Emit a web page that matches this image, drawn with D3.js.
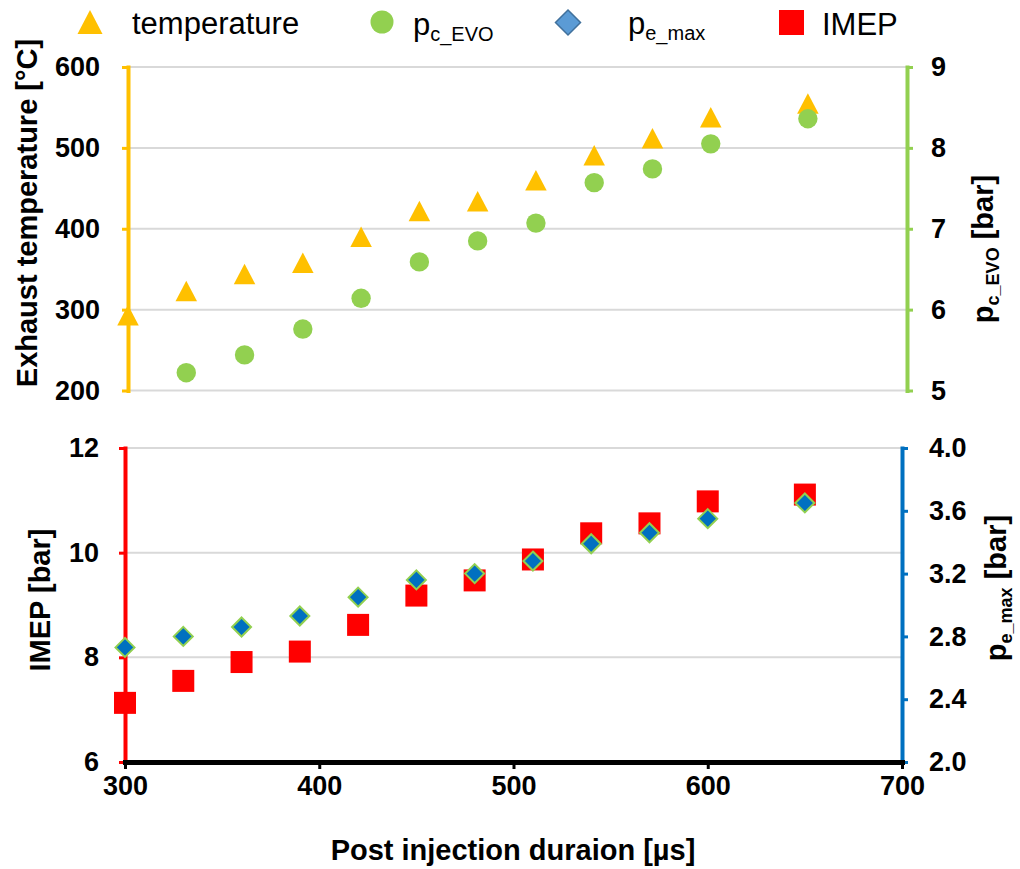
<!DOCTYPE html>
<html>
<head>
<meta charset="utf-8">
<script src="https://cdn.jsdelivr.net/npm/d3@7"></script>
<style>
  body { margin: 0; background: #fff; }
  text { font-family: "Liberation Sans", Arial, sans-serif; fill: #000; }
  .tick text { font-size: 27px; font-weight: bold; }
  .ttl { font-size: 29px; font-weight: bold; }
  .leg { font-size: 31px; }
</style>
</head>
<body>
<div id="viz"></div>
<script>
// data
var duration = [300, 330, 360, 390, 420, 450, 480, 510, 540, 570, 600, 650];
var temperature = [293, 323, 344, 358, 390, 422, 434, 460, 491, 512, 538, 555];
var pcEvo = [null, 5.22, 5.44, 5.76, 6.14, 6.59, 6.85, 7.07, 7.57, 7.74, 8.05, 8.36];
var imep = [7.13, 7.55, 7.91, 8.11, 8.62, 9.18, 9.47, 9.87, 10.37, 10.56, 10.98, 11.11];
var peMax = [2.73, 2.80, 2.86, 2.93, 3.05, 3.16, 3.20, 3.28, 3.39, 3.46, 3.55, 3.65];

var xTicks = [300, 400, 500, 600, 700];
var tempTicks = [200, 300, 400, 500, 600];
var pcTicks = [5, 6, 7, 8, 9];
var imepTicks = [6, 8, 10, 12];
var peTicks = [2.0, 2.4, 2.8, 3.2, 3.6, 4.0];

var w = 1020, h = 869;
var yellow = "#FFC000", green = "#92D050", red = "#FF0000", blue = "#0070C0", grid = "#D9D9D9";

var svg = d3.select("#viz").append("svg")
  .attr("width", w)
  .attr("height", h);

// scales
var xTop = d3.scaleLinear().domain([300, 700]).range([128, 905]);
var xBot = d3.scaleLinear().domain([300, 700]).range([125, 902]);
var yTemp = d3.scaleLinear().domain([200, 600]).range([390.5, 67]);
var yPc = d3.scaleLinear().domain([5, 9]).range([390.5, 67]);
var yImep = d3.scaleLinear().domain([6, 12]).range([762, 448]);
var yPe = d3.scaleLinear().domain([2, 4]).range([762, 448]);

var intFmt = d3.format("d");

// marker shapes
function tri(s) { var a = s / 2; return "M0," + (-a) + "L" + (a + 0.5) + "," + a + "L" + (-a - 0.5) + "," + a + "Z"; }
function diamond(s) { var a = s / 2; return "M0," + (-a) + "L" + a + ",0L0," + a + "L" + (-a) + ",0Z"; }

// gridlines
svg.append("g").selectAll("line")
  .data(tempTicks).enter().append("line")
  .attr("x1", 128).attr("x2", 907)
  .attr("y1", function(d){ return yTemp(d); })
  .attr("y2", function(d){ return yTemp(d); })
  .style("stroke", grid).style("stroke-width", 2);

svg.append("g").selectAll("line")
  .data(imepTicks.slice(1)).enter().append("line")
  .attr("x1", 125).attr("x2", 902)
  .attr("y1", function(d){ return yImep(d); })
  .attr("y2", function(d){ return yImep(d); })
  .style("stroke", grid).style("stroke-width", 2);

function styleAxis(g, colour) {
  g.select(".domain").style("stroke", colour).style("stroke-width", 4);
  g.selectAll(".tick line").style("stroke", colour).style("stroke-width", 3);
}

// top axes
var gT = svg.append("g").attr("transform", "translate(128,0)")
  .call(d3.axisLeft(yTemp).tickValues(tempTicks).tickFormat(intFmt).tickSize(6).tickSizeOuter(0).tickPadding(22));
styleAxis(gT, yellow);

var gP = svg.append("g").attr("transform", "translate(907,0)")
  .call(d3.axisRight(yPc).tickValues(pcTicks).tickFormat(intFmt).tickSize(6).tickSizeOuter(0).tickPadding(18));
styleAxis(gP, green);

// bottom axes
var gI = svg.append("g").attr("transform", "translate(125,0)")
  .call(d3.axisLeft(yImep).tickValues(imepTicks).tickFormat(intFmt).tickSize(6).tickSizeOuter(0).tickPadding(20));
styleAxis(gI, red);

var gE = svg.append("g").attr("transform", "translate(902,0)")
  .call(d3.axisRight(yPe).tickValues(peTicks).tickFormat(d3.format(".1f")).tickSize(6).tickSizeOuter(0).tickPadding(21));
styleAxis(gE, blue);

var gX = svg.append("g").attr("transform", "translate(0,762)")
  .call(d3.axisBottom(xBot).tickValues(xTicks).tickFormat(intFmt).tickSize(7).tickSizeOuter(0).tickPadding(7));
gX.select(".domain").style("stroke", "#000").style("stroke-width", 5);
gX.selectAll(".tick line").style("stroke", "#000").style("stroke-width", 3);
svg.selectAll(".domain").attr("stroke-linecap", "square");

// points, top panel
var topData = duration.map(function(d, i){ return {x: d, t: temperature[i], p: pcEvo[i]}; });

svg.append("g").selectAll("path")
  .data(topData).enter().append("path")
  .attr("d", tri(20.5))
  .attr("transform", function(d){ return "translate(" + xTop(d.x) + "," + yTemp(d.t) + ")"; })
  .style("fill", yellow);

svg.append("g").selectAll("circle")
  .data(topData.filter(function(d){ return d.p != null; })).enter().append("circle")
  .attr("cx", function(d){ return xTop(d.x); })
  .attr("cy", function(d){ return yPc(d.p); })
  .attr("r", 9.7)
  .style("fill", green);

// points, bottom panel
var botData = duration.map(function(d, i){ return {x: d, m: imep[i], e: peMax[i]}; });

svg.append("g").selectAll("rect")
  .data(botData).enter().append("rect")
  .attr("x", function(d){ return xBot(d.x) - 11; })
  .attr("y", function(d){ return yImep(d.m) - 11; })
  .attr("width", 22).attr("height", 22)
  .style("fill", red);

svg.append("g").selectAll("path")
  .data(botData).enter().append("path")
  .attr("d", diamond(19))
  .attr("transform", function(d){ return "translate(" + xBot(d.x) + "," + yPe(d.e) + ")"; })
  .style("fill", blue)
  .style("stroke", green)
  .style("stroke-width", 2);

// axis titles
svg.append("text").attr("class", "ttl")
  .attr("transform", "translate(37,213) rotate(-90)")
  .attr("text-anchor", "middle")
  .text("Exhaust temperature [°C]");

var t2 = svg.append("text").attr("class", "ttl")
  .attr("transform", "translate(993,249) rotate(-90)")
  .attr("text-anchor", "middle");
t2.append("tspan").text("p");
t2.append("tspan").attr("dy", 6).style("font-size", "18px").text("c_EVO");
t2.append("tspan").attr("dy", -6).text(" [bar]");

svg.append("text").attr("class", "ttl")
  .attr("transform", "translate(50,600) rotate(-90)")
  .attr("text-anchor", "middle")
  .text("IMEP [bar]");

var t4 = svg.append("text").attr("class", "ttl")
  .attr("transform", "translate(1006,588) rotate(-90)")
  .attr("text-anchor", "middle");
t4.append("tspan").text("p");
t4.append("tspan").attr("dy", 6).style("font-size", "18px").text("e_max");
t4.append("tspan").attr("dy", -6).text(" [bar]");

svg.append("text").attr("class", "ttl")
  .attr("x", 513).attr("y", 860)
  .attr("text-anchor", "middle")
  .text("Post injection duraion [µs]");

// legend
var leg = svg.append("g");
leg.append("path").attr("d", tri(24)).attr("transform", "translate(90,22)").style("fill", yellow);
leg.append("text").attr("class", "leg").attr("x", 132).attr("y", 34).text("temperature");

leg.append("circle").attr("cx", 382).attr("cy", 22).attr("r", 11.5).style("fill", green);
var l2 = leg.append("text").attr("class", "leg").attr("x", 413).attr("y", 35);
l2.append("tspan").text("p");
l2.append("tspan").attr("dy", 6).style("font-size", "20px").text("c_EVO");

leg.append("path").attr("d", diamond(25)).attr("transform", "translate(568,22.5)")
  .style("fill", "#5B9BD5").style("stroke", "#41719C").style("stroke-width", 1.5);
var l3 = leg.append("text").attr("class", "leg").attr("x", 628).attr("y", 34);
l3.append("tspan").text("p");
l3.append("tspan").attr("dy", 6).style("font-size", "20px").text("e_max");

leg.append("rect").attr("x", 779).attr("y", 10).attr("width", 25).attr("height", 25).style("fill", red);
leg.append("text").attr("class", "leg").attr("x", 822).attr("y", 35).text("IMEP");
</script>
</body>
</html>
